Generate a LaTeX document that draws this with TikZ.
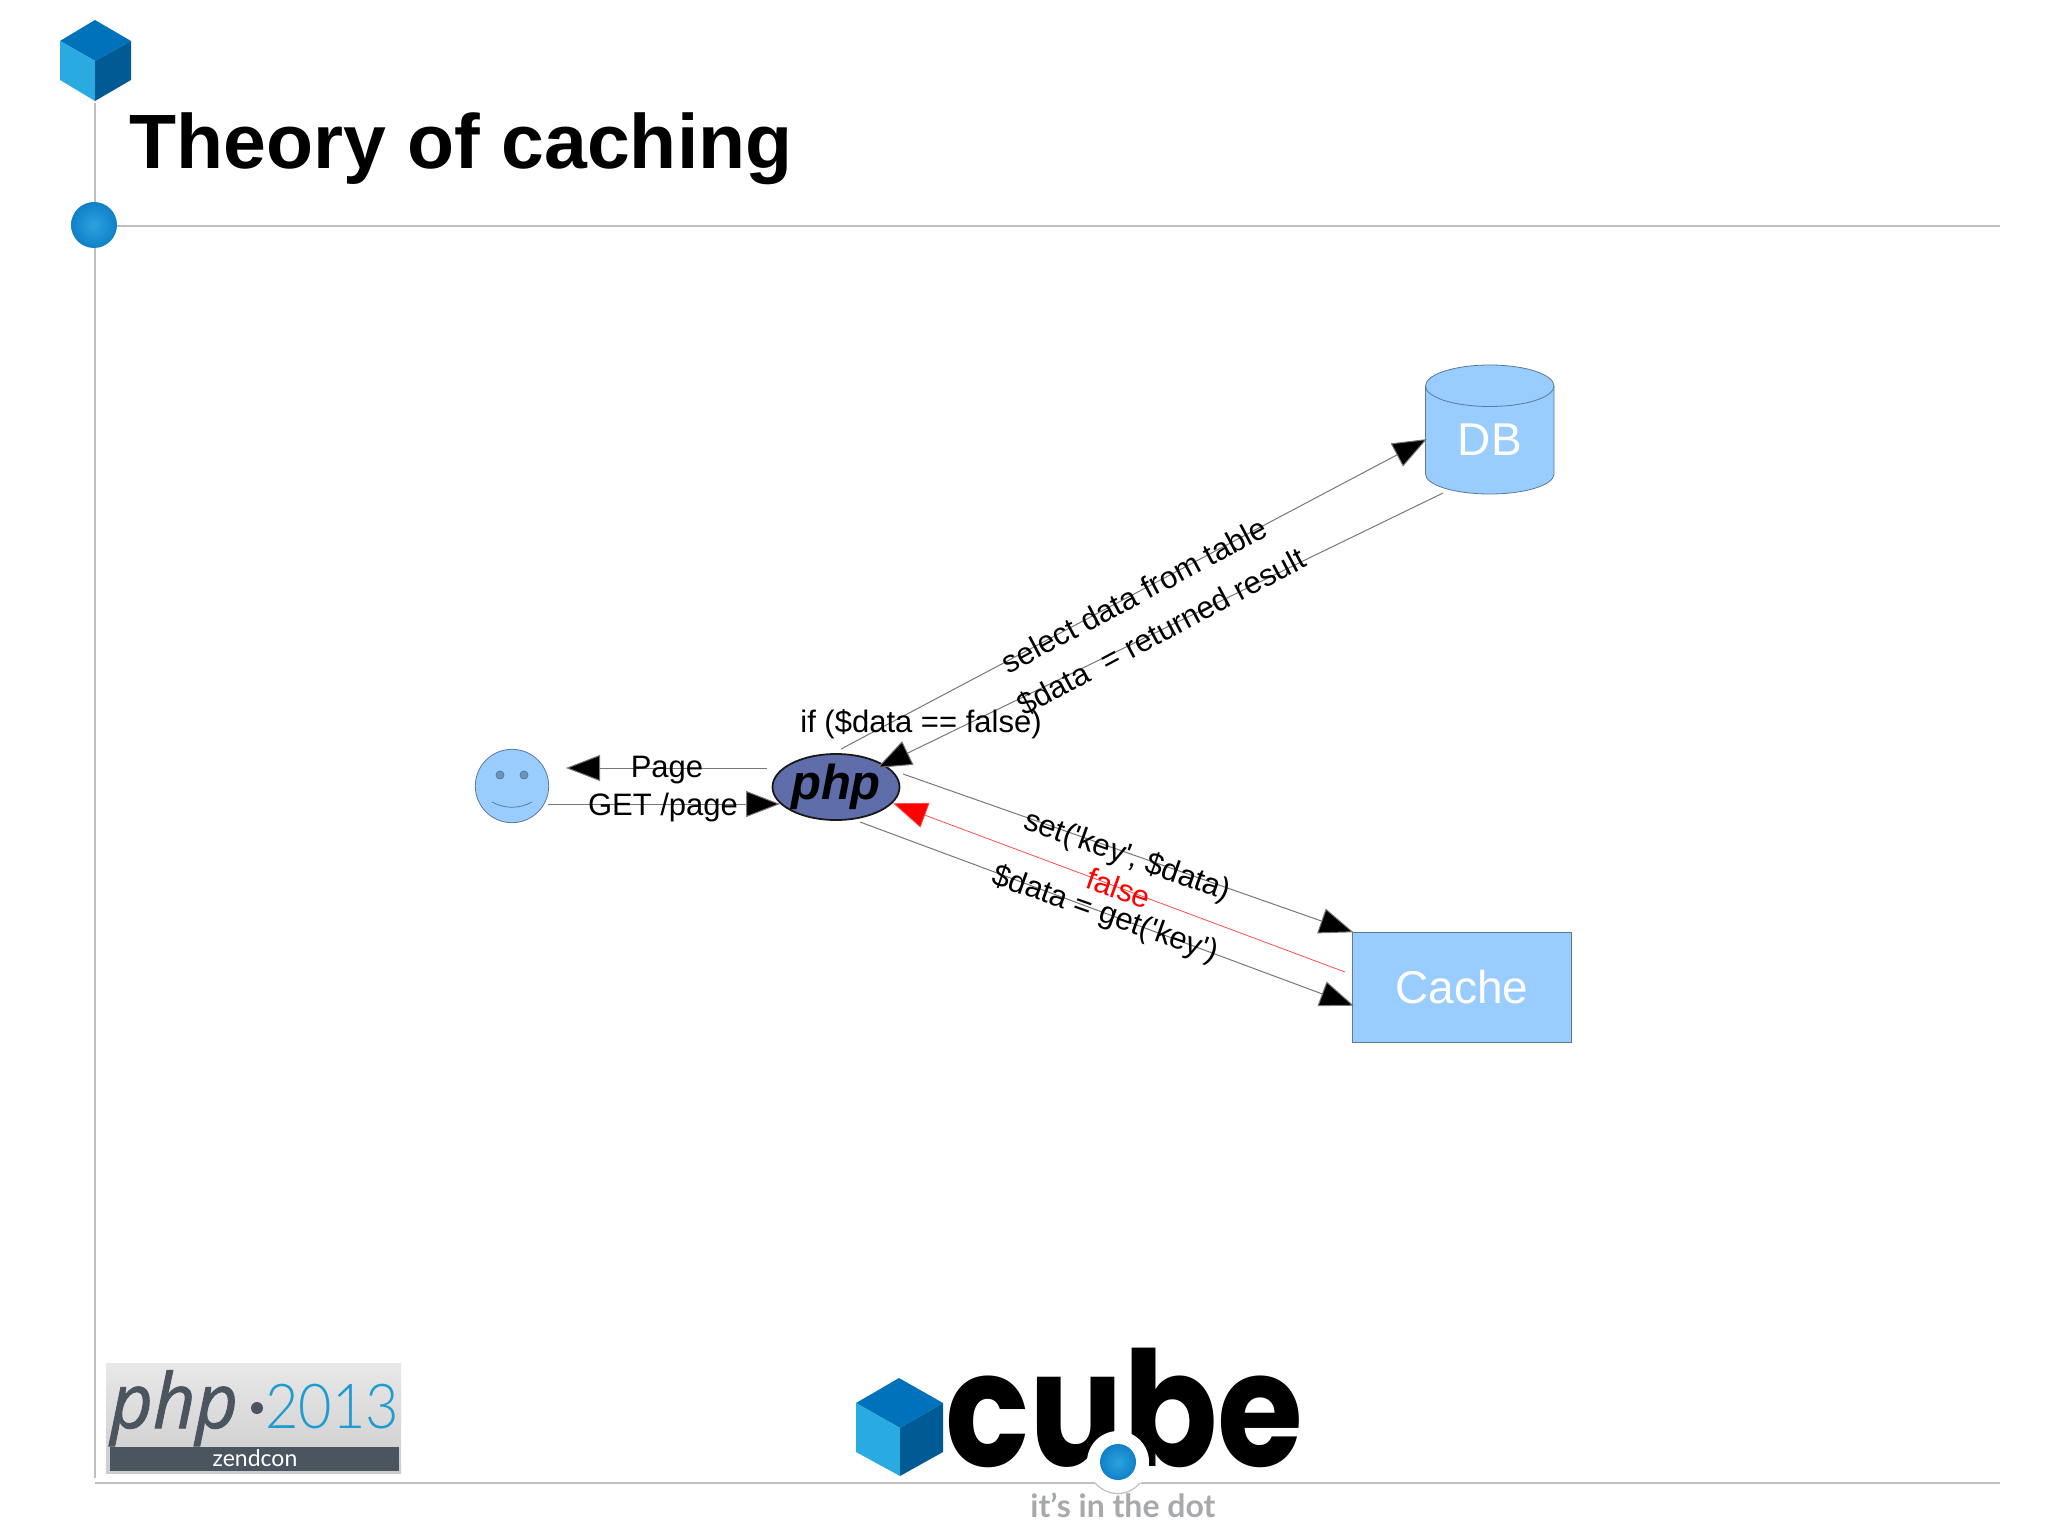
\documentclass[tikz,border=0pt]{standalone}
\usepackage{fontspec}
\usepackage{graphicx}
\setmainfont{Liberation Sans}
\newfontfamily\popfont{Poppins}
\newfontfamily\latofont{Lato}
\newfontfamily\latolight{Lato Light}
\newfontfamily\opfont[ItalicFeatures={FakeBold=1.3}]{Open Sans}
\usetikzlibrary{arrows.meta,shapes.geometric}
\definecolor{boxblue}{HTML}{99CCFF}
\definecolor{boxline}{HTML}{5A7A9A}
\definecolor{wire}{HTML}{777777}
\definecolor{rule}{HTML}{BFBFBF}
\definecolor{cubetop}{HTML}{0072BC}
\definecolor{cubeleft}{HTML}{29ABE2}
\definecolor{cuberight}{HTML}{005B94}
\definecolor{phpblue}{HTML}{5F6EAA}
\definecolor{zslate}{HTML}{4A5560}
\definecolor{zblue}{HTML}{1E9BD0}
\definecolor{taggray}{HTML}{A7A9AC}
\definecolor{dotin}{HTML}{2BA3E0}
\definecolor{dotout}{HTML}{1080C8}
\tikzset{
  x=0.5pt,y=-0.5pt,
  flow/.style={draw=wire,line width=0.5pt,shorten >=-1pt,-{Triangle[length=17pt,width=13pt,fill=black]}},
  redflow/.style={draw=red!70!white,line width=0.4pt,shorten >=-1pt,-{Triangle[length=17pt,width=13pt,fill=red]}},
  lbl/.style={inner sep=0pt,font=\fontsize{15.5pt}{18pt}\selectfont},
  whitelbl/.style={inner sep=0pt,text=white,font=\fontsize{23pt}{26pt}\selectfont},
  rulebar/.style={draw=rule,line width=1pt},
  ball/.style={circle,inner sep=0pt,draw=none,shade,inner color=dotin,outer color=dotout},
  logotext/.style={inner sep=0pt,anchor=base west},
}
\begin{document}
\begin{tikzpicture}
\useasboundingbox (0,0) rectangle (2048,1535);
% frame rules
\draw[rulebar] (94.5,103) -- (94.5,1478);
\draw[rulebar] (116,226.5) -- (2000,226.5);
\draw[rulebar] (95,1483) -- (2000,1483);
% corner cube
\fill[cubetop] (95,20) -- (131,41) -- (95,61) -- (60,41) -- cycle;
\fill[cubeleft] (60,41) -- (95,61) -- (95,101) -- (60,80) -- cycle;
\fill[cuberight] (131,41) -- (95,61) -- (95,101) -- (131,80) -- cycle;
\node[ball,minimum size=23pt] (topdot) at (94,225) {};
% title
\node[logotext,font=\bfseries\fontsize{38.5pt}{44pt}\selectfont] (title) at (129,168.5) {Theory of caching};
% diagram shapes
\node[circle,draw=boxline,fill=boxblue,line width=0.4pt,inner sep=0pt,minimum size=36.7pt] (user) at (512,786) {};
\node[circle,draw=boxline,fill=boxline!70!boxblue,line width=0.4pt,inner sep=0pt,minimum size=4pt] (eyeL) at (500,775) {};
\node[circle,draw=boxline,fill=boxline!70!boxblue,line width=0.4pt,inner sep=0pt,minimum size=4pt] (eyeR) at (524,775) {};
\draw[boxline,line width=0.4pt] (492,802) .. controls (505,809) and (519,809) .. (532,802);
\node[ellipse,draw=black!90,fill=phpblue,line width=0.9pt,inner sep=0pt,minimum width=63pt,minimum height=33pt,font=\bfseries\itshape\fontsize{24.5pt}{26pt}\selectfont] (php) at (836,787) {php};
% database
\filldraw[fill=boxblue,draw=boxline,line width=0.4pt] (1425.5,386) -- (1425.5,474) arc[start angle=180,end angle=0,x radius=64.25,y radius=20] -- (1554,386) arc[start angle=0,end angle=-180,x radius=64.25,y radius=21] -- cycle;
\draw[boxline,line width=0.4pt] (1425.5,386) arc[start angle=180,end angle=0,x radius=64.25,y radius=20.5];
\node[whitelbl,minimum width=64.25pt,minimum height=55pt] (db) at (1489.75,440) {DB};
\node[whitelbl,draw=boxline,fill=boxblue,line width=0.4pt,minimum width=109.75pt,minimum height=55pt] (cache) at (1461.75,987) {Cache};
% free ends of the connectors
\coordinate (pageOut) at (767,768);
\coordinate (pageIn) at (568,768);
\coordinate (getIn) at (778,804);
\coordinate (userOut) at (548,804);
\coordinate (selOut) at (841,749);
\coordinate (retOut) at (1443,493);
\coordinate (retIn) at (879,767);
\coordinate (setOut) at (903,774);
\coordinate (falseOut) at (1345,972);
\coordinate (falseIn) at (895,804);
\coordinate (getkeyOut) at (860,822);
\coordinate (getkeyIn) at (1352,1005);
% connectors
\draw[flow] (pageOut) -- (pageIn);
\draw[flow] (userOut) -- (getIn);
\draw[flow] (selOut) -- (db.west);
\draw[flow] (retOut) -- (retIn);
\draw[flow] (setOut) -- (cache.north west);
\draw[redflow] (falseOut) -- (falseIn);
\draw[flow] (getkeyOut) -- (getkeyIn);
% connector labels
\node[lbl] (lpage) at (667,770.5) {Page};
\node[lbl] (lget) at (663,807.5) {GET /page};
\node[lbl] (lif) at (921,724.5) {if (\$data == false)};
\node[lbl,rotate=28] (lsel) at (1134,595) {select data from table};
\node[lbl,rotate=28] (lret) at (1161,632) {\$data\ \ = returned result};
\node[lbl,rotate=-19.5] (lset) at (1127,857) {set(\textquotesingle key\textquotesingle, \$data)};
\node[lbl,rotate=-19.5,text=red] (lfalse) at (1119,888) {false};
\node[lbl,rotate=-19.5] (lkey) at (1105,915) {\$data = get(\textquotesingle key\textquotesingle)};
% php 2013 badge
\shade[top color=black!9,bottom color=black!20] (106,1363) rectangle (401,1473);
\fill[zslate] (110,1447) rectangle (399,1471);
\node[logotext,text=zslate,font=\opfont\itshape\fontsize{38pt}{40pt}\selectfont] (badgephp) at (110,1428) {\scalebox{0.97}[1]{php}};
\node[circle,fill=zslate,inner sep=0pt,minimum size=6pt] (badgedot) at (257,1408) {};
\node[logotext,text=zblue,font=\latolight\fontsize{31pt}{33pt}\selectfont] (badgeyear) at (265,1428) {\scalebox{0.93}[1]{2013}};
\node[inner sep=0pt,text=white,font=\latofont\fontsize{11.5pt}{13pt}\selectfont] (badgezend) at (255,1458) {zendcon};
% cube logo
\fill[cubetop] (899,1378) -- (943,1403) -- (900,1428) -- (856,1403) -- cycle;
\fill[cubeleft] (856,1403) -- (900,1428) -- (900,1476) -- (856,1452) -- cycle;
\fill[cuberight] (943,1403) -- (900,1428) -- (900,1476) -- (943,1452) -- cycle;
\node[logotext,text=black,font=\popfont\bfseries\fontsize{80pt}{84pt}\selectfont] (cubeword) at (945,1466) {\scalebox{0.87}[1]{cube}};
\fill[white] (1118,1462) circle[radius=31];
\draw[rule,line width=0.6pt] (1095,1483) .. controls (1108,1497) and (1128,1497) .. (1140,1483);
\node[ball,minimum size=18pt] (logodot) at (1118,1462) {};
\node[logotext,text=taggray,font=\latofont\bfseries\fontsize{16pt}{18pt}\selectfont] (tagline) at (1030,1517) {it’s in the dot};
\end{tikzpicture}
\end{document}
